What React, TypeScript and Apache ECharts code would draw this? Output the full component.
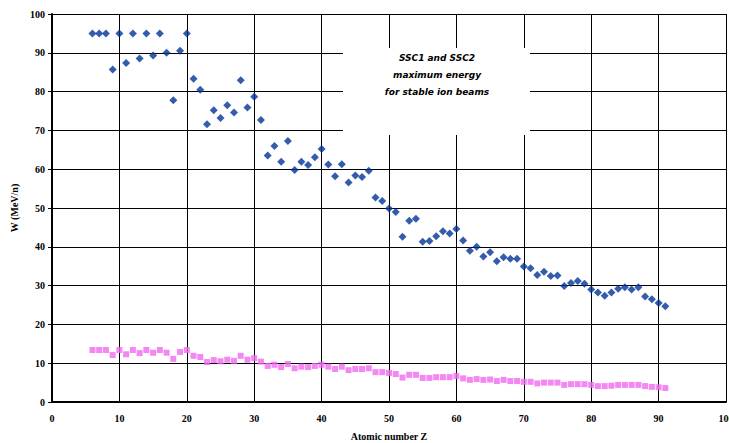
import React, { useEffect, useRef } from "react";
import * as echarts from "echarts";

const zValues: number[] = [
  6, 7, 8, 9, 10, 11, 12, 13, 14, 15, 16, 17, 18, 19, 20, 21, 22, 23, 24, 25, 26, 27, 28, 29, 30,
  31, 32, 33, 34, 35, 36, 37, 38, 39, 40, 41, 42, 43, 44, 45, 46, 47, 48, 49, 50, 51, 52, 53, 54,
  55, 56, 57, 58, 59, 60, 61, 62, 63, 64, 65, 66, 67, 68, 69, 70, 71, 72, 73, 74, 75, 76, 77, 78,
  79, 80, 81, 82, 83, 84, 85, 86, 87, 88, 89, 90, 91,
];

const maxEnergy: number[] = [
  95, 95, 95, 85.7, 95, 87.4, 95, 88.5, 95, 89.3, 95, 90.0, 77.8, 90.5, 95, 83.3, 80.5, 71.6, 75.2,
  73.2, 76.5, 74.6, 82.9, 75.9, 78.7, 72.7, 63.5, 66.0, 61.9, 67.3, 59.8, 61.9, 61.1, 63.1, 65.2,
  61.2, 58.2, 61.3, 56.6, 58.4, 58.0, 59.6, 52.7, 51.8, 49.9, 49.0, 42.6, 46.7, 47.2, 41.3, 41.5,
  42.7, 44.0, 43.4, 44.6, 41.6, 39.0, 40.0, 37.5, 38.6, 36.3, 37.3, 36.9, 36.9, 34.9, 34.5, 32.7,
  33.6, 32.5, 32.6, 29.9, 30.7, 31.2, 30.5, 29.0, 28.2, 27.4, 28.2, 29.2, 29.6, 29.0, 29.6, 27.2,
  26.5, 25.5, 24.7,
];

const minEnergy: number[] = [
  13.4, 13.4, 13.4, 12.1, 13.4, 12.3, 13.4, 12.6, 13.4, 12.7, 13.4, 12.7, 11.1, 12.9, 13.4, 11.9,
  11.6, 10.3, 10.8, 10.5, 10.9, 10.6, 11.9, 10.9, 11.3, 10.4, 9.3, 9.6, 9.0, 9.8, 8.7, 9.1, 9.0,
  9.3, 9.6, 9.1, 8.5, 9.1, 8.2, 8.5, 8.5, 8.7, 7.7, 7.7, 7.5, 7.2, 6.3, 7.0, 7.0, 6.2, 6.2, 6.4,
  6.4, 6.4, 6.7, 6.1, 5.7, 5.9, 5.7, 5.8, 5.4, 5.7, 5.4, 5.4, 5.2, 5.2, 4.8, 5.0, 5.0, 5.0, 4.4,
  4.6, 4.6, 4.6, 4.4, 4.1, 4.1, 4.2, 4.4, 4.4, 4.4, 4.4, 4.1, 3.9, 3.8, 3.6,
];

const noteLines: string[] = ["SSC1 and SSC2", "maximum energy", "for stable ion beams"];

const serif = "Liberation Serif";

export default function App() {
  const ref = useRef<HTMLDivElement>(null);

  useEffect(() => {
    document.documentElement.style.overflow = "hidden";
    document.body.style.margin = "0";
    document.body.style.overflow = "hidden";
    if (!ref.current) return;
    const chart = echarts.init(ref.current, undefined, { renderer: "svg" });
    const labelStyle = {
      color: "#000",
      fontFamily: serif,
      fontWeight: "bold" as const,
      fontSize: 10,
    };
    const axisCommon = {
      type: "value" as const,
      min: 0,
      max: 100,
      interval: 10,
      axisLine: { show: true, lineStyle: { color: "#000", width: 2 } },
      splitLine: { show: true, lineStyle: { color: "#000", width: 1 } },
      nameTextStyle: labelStyle,
    };
    chart.setOption({
      animation: false,
      backgroundColor: "#fff",
      grid: {
        left: 52,
        right: 3,
        top: 14,
        bottom: 41,
        containLabel: false,
        outerBoundsMode: "none",
      },
      xAxis: {
        ...axisCommon,
        name: "Atomic number Z",
        nameLocation: "middle",
        nameGap: 29,
        axisTick: { show: false },
        axisLabel: { ...labelStyle, margin: 11 },
      },
      yAxis: {
        ...axisCommon,
        name: "W (MeV/n)",
        nameLocation: "middle",
        nameGap: 26,
        axisTick: { show: true, length: 4, lineStyle: { color: "#000" } },
        axisLabel: { ...labelStyle, margin: 7 },
      },
      series: [
        {
          type: "scatter",
          name: "max",
          symbol: "diamond",
          symbolSize: 8,
          itemStyle: { color: "#003399" },
          data: zValues.map((z, i) => [z, maxEnergy[i]]),
          z: 3,
        },
        {
          type: "scatter",
          name: "min",
          symbol: "rect",
          symbolSize: 6,
          itemStyle: { color: "#F06AF0" },
          data: zValues.map((z, i) => [z, minEnergy[i]]),
          z: 3,
        },
      ],
      graphic: [
        {
          type: "rect",
          shape: { x: 343, y: 48, width: 187, height: 87 },
          style: { fill: "#fff" },
          z: 5,
        },
        ...noteLines.map((t, i) => ({
          type: "text",
          x: 437,
          y: 58 + i * 17,
          z: 6,
          style: {
            text: t,
            fill: "#000",
            fontFamily: "DejaVu Sans",
            fontStyle: "italic",
            fontWeight: "bold",
            fontSize: 9,
            align: "center",
            verticalAlign: "middle",
          },
        })),
      ],
    });
    return () => chart.dispose();
  }, []);

  return <div ref={ref} style={{ width: 729, height: 443 }} />;
}
